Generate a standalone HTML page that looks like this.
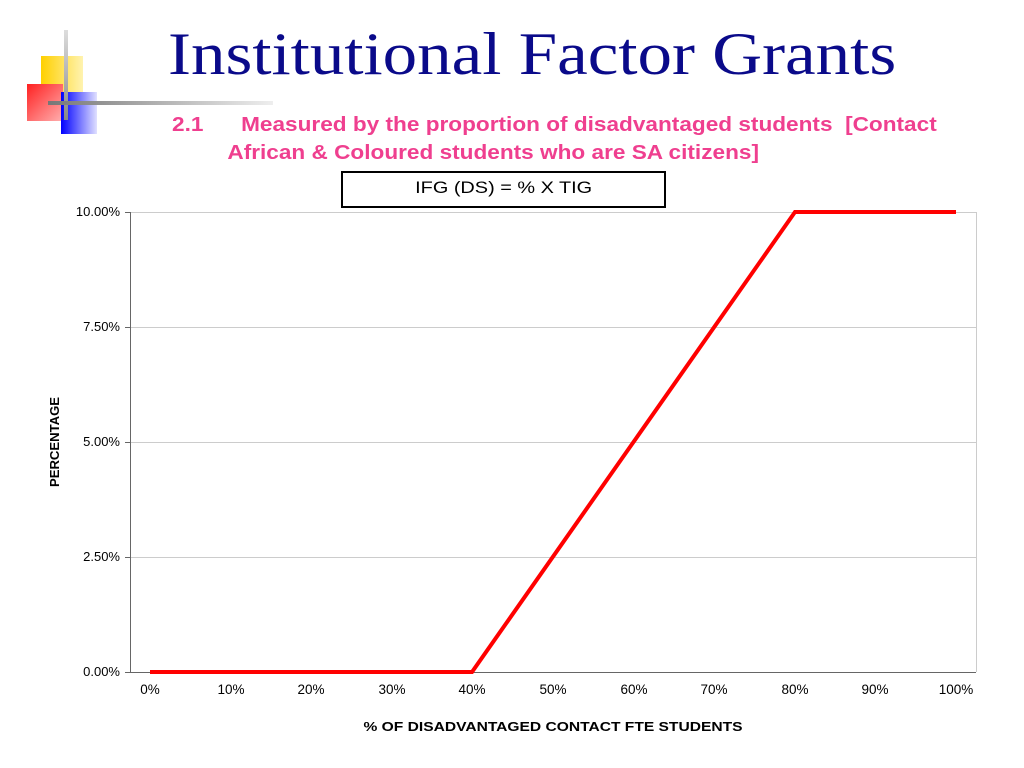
<!DOCTYPE html>
<html><head><style>
body{margin:0;width:1024px;height:768px;background:#fff;position:relative;overflow:hidden;font-family:"Liberation Sans",Arial,sans-serif}
.a{position:absolute}
</style></head><body>
<div class="a" style="left:41px;top:56px;width:42px;height:44px;background:linear-gradient(90deg,#ffd000,#fff3b0)"></div>
<div class="a" style="left:27px;top:84px;width:36px;height:37px;background:linear-gradient(135deg,#ff2020,#ffb0b0)"></div>
<div class="a" style="left:61px;top:92px;width:36px;height:42px;background:linear-gradient(90deg,#0000ff,#e0e0ff)"></div>
<div class="a" style="left:64px;top:30px;width:4px;height:90px;background:linear-gradient(#ddd,#888)"></div>
<div class="a" style="left:48px;top:101px;width:225px;height:4px;background:linear-gradient(90deg,#777,#eee)"></div>
<div class="a" style="left:168px;top:20px;font-family:'Liberation Serif',serif;font-size:60px;color:#0a0a8a;white-space:nowrap;transform:scaleX(1.15);transform-origin:left top">Institutional Factor Grants</div>
<div class="a" style="left:172px;top:111px;font-size:20px;font-weight:bold;color:#ef3f8f;line-height:28px;white-space:nowrap;transform:scaleX(1.13);transform-origin:left top">2.1&nbsp;&nbsp;&nbsp;&nbsp;&nbsp;&nbsp;Measured by the proportion of disadvantaged students&nbsp; [Contact<br><span style="padding-left:49px">African &amp; Coloured students who are SA citizens]</span></div>
<div class="a" style="left:341px;top:171px;width:325px;height:37px;border:2px solid #000;box-sizing:border-box;"></div>
<div class="a" style="left:341px;top:174px;width:325px;text-align:center;font-size:17px;line-height:28px"><span style="display:inline-block;transform:scaleX(1.17)">IFG (DS) = % X TIG</span></div>
<svg class="a" style="left:0;top:0" width="1024" height="768">
<g stroke="#ccc" stroke-width="1">
<line x1="130" y1="212.5" x2="976" y2="212.5"/><line x1="130" y1="327.5" x2="976" y2="327.5"/><line x1="130" y1="442.5" x2="976" y2="442.5"/><line x1="130" y1="557.5" x2="976" y2="557.5"/>
</g>
<line x1="976.5" y1="212" x2="976.5" y2="672" stroke="#ccc"/>
<g stroke="#666" stroke-width="1">
<line x1="130.5" y1="212" x2="130.5" y2="672"/><line x1="125" y1="672.5" x2="976" y2="672.5"/>
<line x1="125" y1="212.5" x2="130" y2="212.5"/><line x1="125" y1="327.5" x2="130" y2="327.5"/><line x1="125" y1="442.5" x2="130" y2="442.5"/><line x1="125" y1="557.5" x2="130" y2="557.5"/>
</g>
<g font-size="13" text-anchor="end" fill="#000">
<text x="120" y="216">10.00%</text><text x="120" y="331">7.50%</text><text x="120" y="446">5.00%</text><text x="120" y="561">2.50%</text><text x="120" y="676">0.00%</text>
</g>
<g font-size="13.5" text-anchor="middle" fill="#000">
<text x="150" y="694">0%</text><text x="231" y="694">10%</text><text x="311" y="694">20%</text><text x="392" y="694">30%</text><text x="472" y="694">40%</text><text x="553" y="694">50%</text><text x="634" y="694">60%</text><text x="714" y="694">70%</text><text x="795" y="694">80%</text><text x="875" y="694">90%</text><text x="956" y="694">100%</text>
</g>
<text x="553" y="731" font-size="13" font-weight="bold" text-anchor="middle" textLength="379" lengthAdjust="spacingAndGlyphs">% OF DISADVANTAGED CONTACT FTE STUDENTS</text>
<text transform="translate(59,442) rotate(-90)" font-size="12.5" font-weight="bold" text-anchor="middle" textLength="90" lengthAdjust="spacingAndGlyphs">PERCENTAGE</text>
<polyline points="150,672 472,672 795,212 956,212" fill="none" stroke="#f00" stroke-width="4"/>
</svg>
</body></html>
